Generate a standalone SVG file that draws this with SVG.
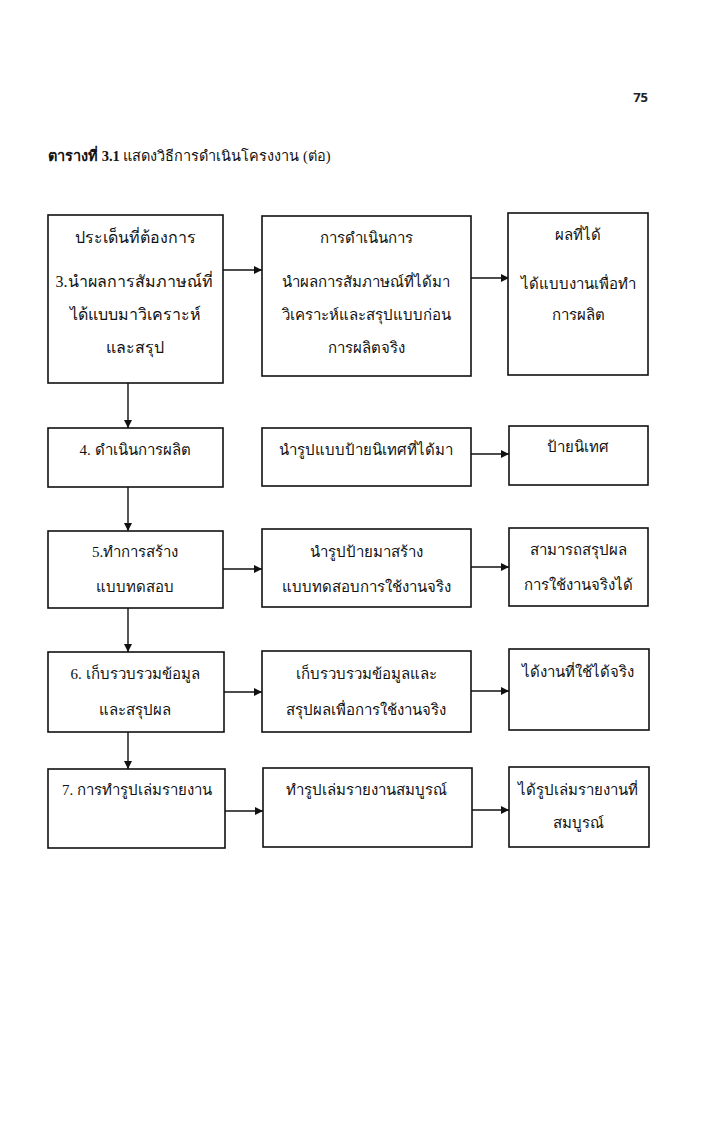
<svg xmlns="http://www.w3.org/2000/svg" width="720" height="1148" viewBox="0 0 720 1148">
<style>
.box{fill:#fff;stroke:#111;stroke-width:1.6}
.t{font-family:"Liberation Serif","Noto Sans",serif;font-size:15px;fill:#111;text-anchor:middle}
.L{font-size:16px}
.c{stroke:#111;stroke-width:1.4;fill:none}
</style>
<defs>
<marker id="ah" viewBox="0 0 10 10" refX="10" refY="5" markerWidth="9" markerHeight="8" markerUnits="userSpaceOnUse" orient="auto">
<path d="M0,0 L10,5 L0,10 z" fill="#111"/>
</marker>
</defs>
<rect width="720" height="1148" fill="#fff"/>
<text x="648" y="102" style="font-family:'Open Sans','Liberation Sans',sans-serif;font-size:13px;font-weight:bold;fill:#222;text-anchor:end">75</text>
<text x="48" y="161" style="font-family:'Liberation Serif',serif;font-size:14.5px;fill:#111"><tspan font-weight="bold">ตารางที่ 3.1</tspan>  แสดงวิธีการดำเนินโครงงาน (ต่อ)</text>

<g id="connectors">
<line class="c" x1="223" y1="270" x2="262" y2="270" marker-end="url(#ah)"/>
<line class="c" x1="471" y1="278" x2="509" y2="278" marker-end="url(#ah)"/>
<line class="c" x1="128" y1="383" x2="128" y2="428" marker-end="url(#ah)"/>
<line class="c" x1="471" y1="454" x2="509" y2="454" marker-end="url(#ah)"/>
<line class="c" x1="128" y1="487" x2="128" y2="531" marker-end="url(#ah)"/>
<line class="c" x1="223" y1="569" x2="262" y2="569" marker-end="url(#ah)"/>
<line class="c" x1="471" y1="567" x2="509" y2="567" marker-end="url(#ah)"/>
<line class="c" x1="128" y1="608" x2="128" y2="652" marker-end="url(#ah)"/>
<line class="c" x1="224" y1="692" x2="262" y2="692" marker-end="url(#ah)"/>
<line class="c" x1="471" y1="691" x2="509" y2="691" marker-end="url(#ah)"/>
<line class="c" x1="128" y1="732" x2="128" y2="769" marker-end="url(#ah)"/>
<line class="c" x1="225" y1="811" x2="263" y2="811" marker-end="url(#ah)"/>
<line class="c" x1="472" y1="810" x2="509" y2="810" marker-end="url(#ah)"/>
</g>

<g id="n1a"><rect class="box" x="48" y="215" width="175" height="168"/>
<text class="t L" x="135" y="243">ประเด็นที่ต้องการ</text>
<text class="t L" x="134" y="287">3.นำผลการสัมภาษณ์ที่</text>
<text class="t L" x="135" y="320">ได้แบบมาวิเคราะห์</text>
<text class="t L" x="135" y="353">และสรุป</text></g>
<g id="n1b"><rect class="box" x="262" y="216" width="209" height="160"/>
<text class="t" x="366" y="243">การดำเนินการ</text>
<text class="t" x="366" y="287">นำผลการสัมภาษณ์ที่ได้มา</text>
<text class="t" x="366" y="320">วิเคราะห์และสรุปแบบก่อน</text>
<text class="t" x="366" y="353">การผลิตจริง</text></g>
<g id="n1c"><rect class="box" x="508" y="213" width="140" height="162"/>
<text class="t" x="578" y="240">ผลที่ได้</text>
<text class="t" x="578" y="289">ได้แบบงานเพื่อทำ</text>
<text class="t" x="578" y="320">การผลิต</text></g>

<g id="n2a"><rect class="box" x="48" y="428" width="175" height="59"/>
<text class="t" x="135" y="455">4. ดำเนินการผลิต</text></g>
<g id="n2b"><rect class="box" x="262" y="428" width="209" height="58"/>
<text class="t" x="366" y="455">นำรูปแบบป้ายนิเทศที่ได้มา</text></g>
<g id="n2c"><rect class="box" x="509" y="426" width="139" height="59"/>
<text class="t" x="578" y="452">ป้ายนิเทศ</text></g>

<g id="n3a"><rect class="box" x="48" y="531" width="175" height="77"/>
<text class="t" x="135" y="557">5.ทำการสร้าง</text>
<text class="t" x="135" y="592">แบบทดสอบ</text></g>
<g id="n3b"><rect class="box" x="262" y="529" width="209" height="78"/>
<text class="t" x="366" y="557">นำรูปป้ายมาสร้าง</text>
<text class="t" x="366" y="592">แบบทดสอบการใช้งานจริง</text></g>
<g id="n3c"><rect class="box" x="509" y="528" width="139" height="78"/>
<text class="t" x="578" y="555">สามารถสรุปผล</text>
<text class="t" x="578" y="590">การใช้งานจริงได้</text></g>

<g id="n4a"><rect class="box" x="48" y="652" width="176" height="80"/>
<text class="t" x="135" y="679">6. เก็บรวบรวมข้อมูล</text>
<text class="t" x="135" y="715">และสรุปผล</text></g>
<g id="n4b"><rect class="box" x="262" y="651" width="209" height="81"/>
<text class="t" x="366" y="679">เก็บรวบรวมข้อมูลและ</text>
<text class="t" x="366" y="715">สรุปผลเพื่อการใช้งานจริง</text></g>
<g id="n4c"><rect class="box" x="509" y="649" width="140" height="81"/>
<text class="t" x="578" y="677">ได้งานที่ใช้ได้จริง</text></g>

<g id="n5a"><rect class="box" x="48" y="769" width="177" height="79"/>
<text class="t" x="137" y="795">7. การทำรูปเล่มรายงาน</text></g>
<g id="n5b"><rect class="box" x="263" y="768" width="209" height="79"/>
<text class="t" x="366" y="795">ทำรูปเล่มรายงานสมบูรณ์</text></g>
<g id="n5c"><rect class="box" x="509" y="767" width="140" height="80"/>
<text class="t" x="578" y="795">ได้รูปเล่มรายงานที่</text>
<text class="t" x="578" y="828">สมบูรณ์</text></g>
</svg>
